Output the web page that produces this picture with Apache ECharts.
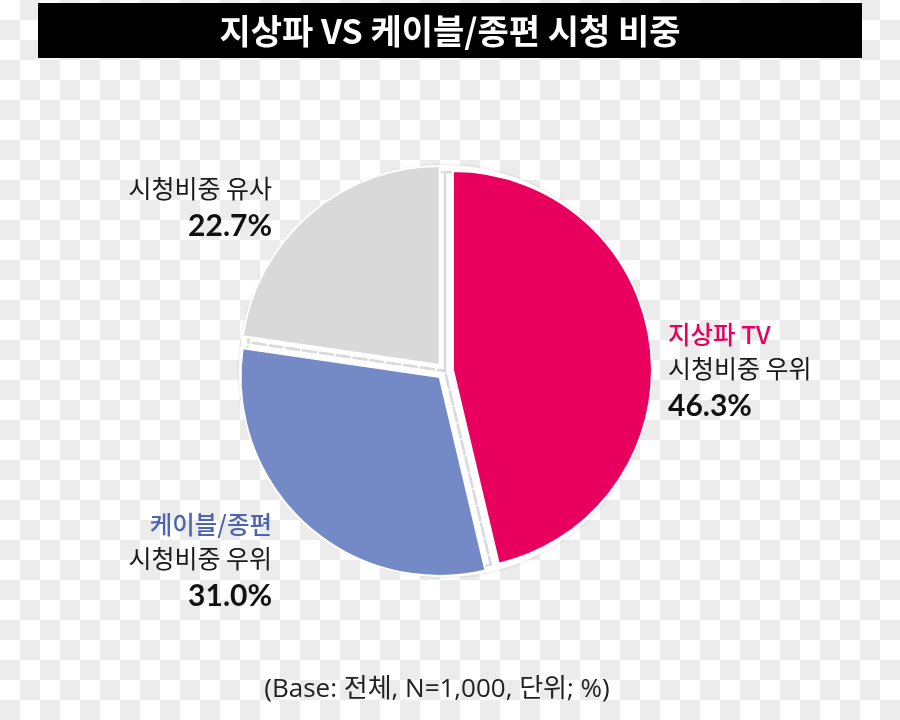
<!DOCTYPE html>
<html>
<head>
<meta charset="utf-8">
<script src="https://cdn.jsdelivr.net/npm/echarts@6/dist/echarts.min.js"></script>
<style>
html,body{margin:0;padding:0;background:repeating-conic-gradient(#ececec 0 25%, #ffffff 0 50%) 0 0/40px 40px;}
#chart{width:900px;height:720px;}
</style>
</head>
<body>
<div id="chart"></div>
<script>
const titleText = '지상파 VS 케이블/종편 시청 비중';
const footnote = '(Base: 전체, N=1,000, 단위; %)';
const categories = ['지상파 TV', '케이블/종편', '시청비중 유사'];
const values = [46.3, 31.0, 22.7];
const subLabels = ['시청비중 우위', '시청비중 우위', ''];
const sliceColors = ['#e9005e', '#738ac7', '#d9d9d9'];
const nameStyles = ['nameRed', 'nameBlue', ''];

// checkerboard pattern
const pc = document.createElement('canvas');
pc.width = 40; pc.height = 40;
const pctx = pc.getContext('2d');
pctx.fillStyle = '#ffffff'; pctx.fillRect(0, 0, 40, 40);
pctx.fillStyle = '#ececec'; pctx.fillRect(20, 0, 20, 20); pctx.fillRect(0, 20, 20, 20);

const chart = echarts.init(document.getElementById('chart'), null, {renderer: 'canvas'});

const labelPos = [
  {x: 668, y: 373, align: 'left'},
  {x: 272, y: 563, align: 'right'},
  {x: 272, y: 209.5, align: 'right'}
];

const richStyles = {
  nameRed: {fontFamily: 'Noto Sans CJK KR', fontWeight: 500, fontSize: 24.5, fill: '#e9005e', lineHeight: 33},
  nameBlue: {fontFamily: 'Noto Sans CJK KR', fontWeight: 500, fontSize: 24.5, fill: '#4d64b3', lineHeight: 33},
  sub: {fontFamily: 'Noto Sans CJK KR', fontSize: 25, fill: '#1a1a1a', lineHeight: 33},
  pct: {fontFamily: 'Lato', fontWeight: 'bold', fontSize: 30, fill: '#111', lineHeight: 43}
};

function labelText(i) {
  const pct = '{pct|' + values[i].toFixed(1) + '%}';
  if (subLabels[i]) {
    return '{' + nameStyles[i] + '|' + categories[i] + '}\n{sub|' + subLabels[i] + '}\n' + pct;
  }
  return '{sub|' + categories[i] + '}\n' + pct;
}

const labelGraphics = values.map((v, i) => ({
  type: 'text', x: labelPos[i].x, y: labelPos[i].y, z: 5,
  style: {text: labelText(i), rich: richStyles, align: labelPos[i].align, verticalAlign: 'middle'}
}));

const mainData = values.map((v, i) => ({
  name: categories[i],
  value: v,
  selected: true,
  itemStyle: {color: sliceColors[i]}
}));

const option = {
  backgroundColor: {image: pc, repeat: 'repeat'},
  animation: false,
  graphic: [
    {type: 'rect', shape: {x: 38, y: 3, width: 824, height: 55}, style: {fill: '#000'}, z: 0},
    {type: 'text', x: 450, y: 31, style: {text: titleText, fill: '#fff', font: 'bold 34px "Noto Sans CJK KR"', align: 'center', verticalAlign: 'middle'}, z: 1},
    {type: 'text', x: 437, y: 690, style: {text: footnote, fill: '#222', font: '26px "Open Sans", "Noto Sans CJK KR"', align: 'center', verticalAlign: 'middle'}, z: 1}
  ].concat(labelGraphics),
  series: [
    {
      type: 'pie', silent: true, center: [445, 371], radius: 206,
      label: {show: false}, labelLine: {show: false},
      itemStyle: {color: '#ffffff', shadowBlur: 3, shadowColor: 'rgba(0,0,0,0.15)'},
      data: [{value: 1, name: 'bg'}]
    },
    {
      type: 'pie', silent: true, center: [445, 371], radius: 199,
      label: {show: false}, labelLine: {show: false},
      itemStyle: {color: 'transparent', borderColor: '#dadada', borderWidth: 2.5, borderType: [10, 7]},
      data: values.map((v, i) => ({name: categories[i], value: v}))
    },
    {
      type: 'pie', center: [445, 371], radius: 199,
      startAngle: 90, clockwise: true,
      selectedMode: 'multiple', selectedOffset: 8,
      emphasis: {disabled: true},
      itemStyle: {borderColor: '#ffffff', borderWidth: 2},
      label: {show: false},
      labelLine: {show: false},
      data: mainData
    }
  ]
};
chart.setOption(option);
</script>
</body>
</html>
